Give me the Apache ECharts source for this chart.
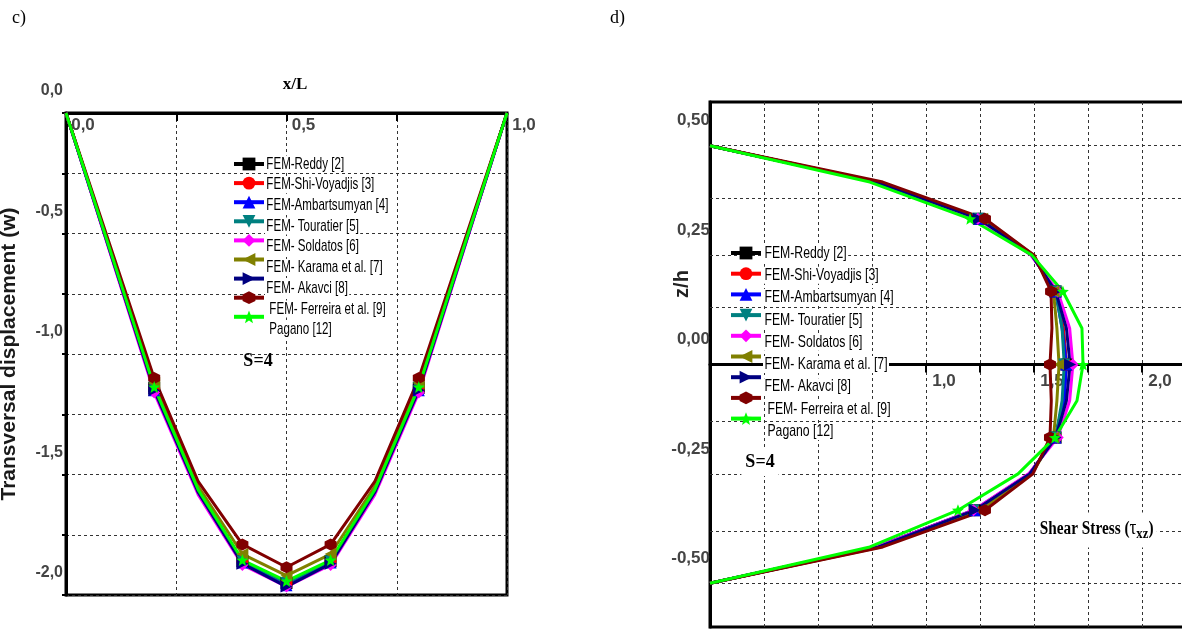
<!DOCTYPE html>
<html>
<head>
<meta charset="utf-8">
<script src="https://cdn.jsdelivr.net/npm/echarts@6/dist/echarts.min.js"></script>
<style>
  html, body { margin: 0; padding: 0; background: #fff; }
  #chart { width: 1182px; height: 630px; }
</style>
</head>
<body>
<div id="chart"></div>
<script>
// ---- panel c: transversal displacement w along x/L ----
const xC = [0, 0.2, 0.3, 0.4, 0.5, 0.6, 0.7, 0.8, 1.0];
const wReddy     = [0, -1.14, -1.570, -1.860, -1.950, -1.860, -1.570, -1.14, 0];
const wShi       = [0, -1.14, -1.570, -1.860, -1.950, -1.860, -1.570, -1.14, 0];
const wAmbart    = [0, -1.15, -1.575, -1.865, -1.960, -1.865, -1.575, -1.15, 0];
const wTouratier = [0, -1.14, -1.565, -1.860, -1.950, -1.860, -1.565, -1.14, 0];
const wSoldatos  = [0, -1.16, -1.585, -1.875, -1.965, -1.875, -1.585, -1.16, 0];
const wKarama    = [0, -1.12, -1.550, -1.830, -1.920, -1.830, -1.550, -1.12, 0];
const wAkavci    = [0, -1.15, -1.575, -1.870, -1.965, -1.870, -1.575, -1.15, 0];
const wFerreira  = [0, -1.10, -1.530, -1.790, -1.885, -1.790, -1.530, -1.10, 0];
const wPagano    = [0, -1.137, -1.564, -1.855, -1.942, -1.855, -1.564, -1.137, 0];

// ---- panel d: shear stress tau_xz through the thickness z/h ----
const zD = [0.5, 0.417, 0.333, 0.25, 0.167, 0.083, 0, -0.083, -0.167, -0.25, -0.333, -0.417, -0.5];
const tReddy     = [0, 0.77, 1.245, 1.495, 1.600, 1.635, 1.650, 1.635, 1.600, 1.480, 1.225, 0.77, 0];
const tShi       = [0, 0.77, 1.245, 1.495, 1.600, 1.635, 1.650, 1.635, 1.600, 1.480, 1.225, 0.77, 0];
const tAmbart    = [0, 0.77, 1.245, 1.490, 1.600, 1.630, 1.650, 1.640, 1.600, 1.480, 1.225, 0.77, 0];
const tTouratier = [0, 0.77, 1.240, 1.490, 1.600, 1.630, 1.640, 1.630, 1.600, 1.480, 1.220, 0.77, 0];
const tSoldatos  = [0, 0.77, 1.240, 1.485, 1.610, 1.665, 1.680, 1.665, 1.610, 1.475, 1.220, 0.77, 0];
const tKarama    = [0, 0.78, 1.260, 1.500, 1.590, 1.606, 1.616, 1.606, 1.590, 1.490, 1.250, 0.79, 0];
const tAkavci    = [0, 0.77, 1.245, 1.490, 1.600, 1.650, 1.667, 1.650, 1.600, 1.480, 1.227, 0.78, 0];
const tFerreira  = [0, 0.80, 1.273, 1.500, 1.579, 1.583, 1.574, 1.580, 1.574, 1.495, 1.273, 0.80, 0];
const tPagano    = [0, 0.74, 1.204, 1.490, 1.634, 1.722, 1.727, 1.699, 1.597, 1.426, 1.148, 0.74, 0];

const names = [
  'FEM-Reddy [2]', 'FEM-Shi-Voyadjis [3]', 'FEM-Ambartsumyan [4]', 'FEM- Touratier [5]',
  'FEM- Soldatos [6]', 'FEM- Karama et al. [7]', 'FEM- Akavci [8]', 'FEM- Ferreira et al. [9]', 'Pagano [12]'
];
const wSets = [wReddy, wShi, wAmbart, wTouratier, wSoldatos, wKarama, wAkavci, wFerreira, wPagano];
const tSets = [tReddy, tShi, tAmbart, tTouratier, tSoldatos, tKarama, tAkavci, tFerreira, tPagano];

// tick values
const cXLabels = [0, 0.5, 1];
const cWLabels = [-2, -1.5, -1, -0.5, 0];
const dGridZ = [0.5, 0.375, 0.25, 0.125, -0.125, -0.25, -0.375, -0.5];
const dZLabels = [-0.5, -0.25, 0, 0.25, 0.5];
const dTauLabels = [1, 1.5, 2];

// marker styling per method
const colors = ['#000000', '#ff0000', '#0000ff', '#008080', '#ff00ff', '#808000', '#000080', '#800000', '#00ff00'];
const symbols = [
  'rect',
  'circle',
  'path://M0,-10 L10,10 L-10,10 Z',
  'path://M-10,-10 L10,-10 L0,10 Z',
  'diamond',
  'path://M-10,0 L10,-10 L10,10 Z',
  'path://M10,0 L-10,-10 L-10,10 Z',
  'path://M0,-10 L8.66,-5 L8.66,5 L0,10 L-8.66,5 L-8.66,-5 Z',
  'path://M0,-10 L2.6,-3.4 L9.5,-3.1 L4.1,1.3 L5.9,8.1 L0,4.2 L-5.9,8.1 L-4.1,1.3 L-9.5,-3.1 L-2.6,-3.4 Z'
];
const markedC = [1, 3, 4, 5, 7];       // sample points drawn with a marker in panel c
const markedD = [2, 4, 6, 8, 10];      // same for panel d

const dec = (v, n) => (Math.abs(v) < 1e-9 ? 0 : v).toFixed(n).replace('.', ',');
const gridDash = { color: '#333', width: 1, type: [3, 3] };
const sans = '"Liberation Sans", Arial, sans-serif';
const serif = '"Liberation Serif", "Times New Roman", serif';

// point list with markers only on the chosen samples
const points = (pairs, marked) => pairs.map((p, k) => marked.includes(k) ? p : { value: p, symbol: 'none' });

const series = [];
names.forEach((name, i) => {
  series.push({
    name, type: 'line', xAxisIndex: 0, yAxisIndex: 0, z: 3,
    data: points(xC.map((x, k) => [x, wSets[i][k]]), markedC),
    symbol: symbols[i], symbolSize: 12, showAllSymbol: true,
    lineStyle: { color: colors[i], width: 3 },
    itemStyle: { color: colors[i] }
  });
});
names.forEach((name, i) => {
  series.push({
    name, type: 'line', xAxisIndex: 1, yAxisIndex: 1, z: 3,
    data: points(zD.map((z, k) => [tSets[i][k], z]), markedD),
    symbol: symbols[i], symbolSize: 12, showAllSymbol: true,
    lineStyle: { color: colors[i], width: 3 },
    itemStyle: { color: colors[i] }
  });
});
// horizontal grid lines of panel d
series.push({
  type: 'line', xAxisIndex: 1, yAxisIndex: 1, z: 1, silent: true,
  data: [[0, 0]], symbol: 'none', lineStyle: { opacity: 0 },
  markLine: {
    silent: true, symbol: 'none', z: 1, animation: false,
    label: { show: false },
    lineStyle: gridDash,
    data: dGridZ.map(v => ({ yAxis: v }))
  }
});

// legends: icons come from the legend component, captions are drawn as condensed text
const legendC = { left: 232, top: 156, itemH: 16, step: 20.7, textX: 265, squeeze: 0.68 };
const legendD = { left: 729, top: 245, itemH: 16, step: 22.3, textX: 763, squeeze: 0.72 };
const captionIndent = [0, 0, 0, 0, 0, 0, 0, 3, 3];
const makeLegend = L => ({
  orient: 'vertical', padding: 0, itemWidth: 30, itemHeight: L.itemH, itemGap: L.step - L.itemH,
  left: L.left, top: L.top, data: names, formatter: () => '', selectedMode: false,
  lineStyle: { width: 4 }
});
const legendCaptions = L => names.map((n, i) => ({
  type: 'text', x: L.textX + captionIndent[i], y: L.top + L.itemH / 2 + i * L.step, scaleX: L.squeeze, z: 20,
  style: { text: n, font: '17px ' + sans, fill: '#000', textVerticalAlign: 'middle',
    backgroundColor: '#fff', padding: [0, 2] }
}));

// labels nudged away from their ticks with an empty spacer line
const yLab = txt => `{v|${txt}}\n{g| }`;

const option = {
  animation: false,
  backgroundColor: '#fff',
  grid: [
    { left: 66, top: 113, width: 441, height: 482, show: true, borderColor: '#000', borderWidth: 3,
      backgroundColor: 'transparent', outerBoundsMode: 'none', containLabel: false },
    { left: 710, top: 102, width: 486, height: 525, show: true, borderColor: '#000', borderWidth: 3,
      backgroundColor: 'transparent', outerBoundsMode: 'none', containLabel: false },
    // upper half of panel d, its bottom edge is the z/h = 0 line carrying the tau axis
    { left: 710, top: 102, width: 486, height: 262.5, show: false, outerBoundsMode: 'none', containLabel: false }
  ],
  xAxis: [
    {
      gridIndex: 0, type: 'value', position: 'top', min: 0, max: 1, interval: 0.25,
      axisLine: { lineStyle: { color: '#000', width: 3 } },
      axisTick: { inside: true, length: 8, lineStyle: { color: '#000', width: 2 } },
      axisLabel: { customValues: cXLabels, inside: true, margin: 4, fontSize: 17, color: '#444', fontWeight: 'bold', fontFamily: sans,
        align: 'center', padding: [0, 0, 0, 34], formatter: v => dec(v, 1) },
      splitLine: { lineStyle: gridDash }
    },
    {
      gridIndex: 1, type: 'value', min: 0, max: 2.25, interval: 0.25,
      axisLine: { show: false }, axisTick: { show: false }, axisLabel: { show: false },
      splitLine: { lineStyle: gridDash }
    },
    {
      gridIndex: 2, type: 'value', position: 'bottom', min: 0, max: 2.25, interval: 0.25,
      axisLine: { onZero: false, lineStyle: { color: '#000', width: 3 } },
      axisTick: { length: 8, lineStyle: { color: '#000', width: 2 } },
      axisLabel: { customValues: dTauLabels, margin: 8, fontSize: 17, color: '#444', fontWeight: 'bold', fontFamily: sans,
        align: 'center', padding: [0, 0, 0, 36], formatter: v => dec(v, 1) },
      splitLine: { show: false }
    }
  ],
  yAxis: [
    {
      gridIndex: 0, type: 'value', min: -2, max: 0, interval: 0.25,
      name: 'Transversal displacement (w)', nameLocation: 'middle', nameRotate: 90, nameGap: 46,
      nameTextStyle: { fontSize: 21, fontWeight: 'bold', color: '#1a1a1a', fontFamily: sans },
      axisLine: { lineStyle: { color: '#000', width: 3 } },
      axisTick: { length: 4, lineStyle: { color: '#000', width: 2 } },
      axisLabel: { customValues: cWLabels, margin: 3,
        formatter: v => yLab(dec(v, 1)),
        rich: {
          v: { fontSize: 16, color: '#444', fontWeight: 'bold', fontFamily: sans, lineHeight: 16 },
          g: { fontSize: 10, height: 44, lineHeight: 44 }
        } },
      splitLine: { lineStyle: gridDash }
    },
    {
      gridIndex: 1, type: 'value', min: -0.6, max: 0.6,
      axisLine: { onZero: false, lineStyle: { color: '#000', width: 3 } },
      axisTick: { show: false },
      axisLabel: { customValues: dZLabels, margin: 0,
        formatter: v => yLab(dec(v, 2)),
        rich: {
          v: { fontSize: 17, color: '#444', fontWeight: 'bold', fontFamily: sans, lineHeight: 17 },
          g: { fontSize: 10, height: 50, lineHeight: 50 }
        } },
      splitLine: { show: false }
    },
    { gridIndex: 2, type: 'value', min: 0, max: 0.6, show: false }
  ],
  legend: [makeLegend(legendC), makeLegend(legendD)],
  graphic: [
    { type: 'text', x: 12, y: 18, style: { text: 'c)', font: '18px ' + serif, fill: '#000', textVerticalAlign: 'middle' } },
    { type: 'text', x: 610, y: 18, style: { text: 'd)', font: '18px ' + serif, fill: '#000', textVerticalAlign: 'middle' } },
    { type: 'text', x: 295, y: 85, style: { text: 'x/L', font: 'bold 17px ' + serif, fill: '#000', textAlign: 'center', textVerticalAlign: 'middle' } },
    { type: 'text', x: 258, y: 361, z: 10, style: { text: 'S=4', font: 'bold 18px ' + serif, fill: '#000', textAlign: 'center', textVerticalAlign: 'middle' } },
    { type: 'text', x: 760, y: 462, z: 10, style: { text: 'S=4', font: 'bold 18px ' + serif, fill: '#000', textAlign: 'center', textVerticalAlign: 'middle', backgroundColor: '#fff', padding: [2, 4, 8, 4] } },
    { type: 'text', x: 682, y: 284, rotation: Math.PI / 2, style: { text: 'z/h', font: 'bold 20px ' + sans, fill: '#222', textAlign: 'center', textVerticalAlign: 'middle' } },
    { type: 'text', x: 1038, y: 530, z: 10, scaleX: 0.85, style: {
        text: '{a|Shear Stress (}{t|τ}{s|xz}{a|)}', textVerticalAlign: 'middle',
        backgroundColor: '#fff', padding: [4, 4, 6, 2],
        rich: {
          a: { font: 'bold 18px ' + serif, fill: '#000' },
          t: { font: '20px ' + serif, fill: '#000' },
          s: { font: 'bold 15px ' + serif, fill: '#000', padding: [10, 0, 0, 0] }
        }
      } },
    ...legendCaptions(legendC),
    ...legendCaptions(legendD)
  ],
  series
};

const chart = echarts.init(document.getElementById('chart'), null, { renderer: 'canvas' });
chart.setOption(option);
</script>
</body>
</html>
